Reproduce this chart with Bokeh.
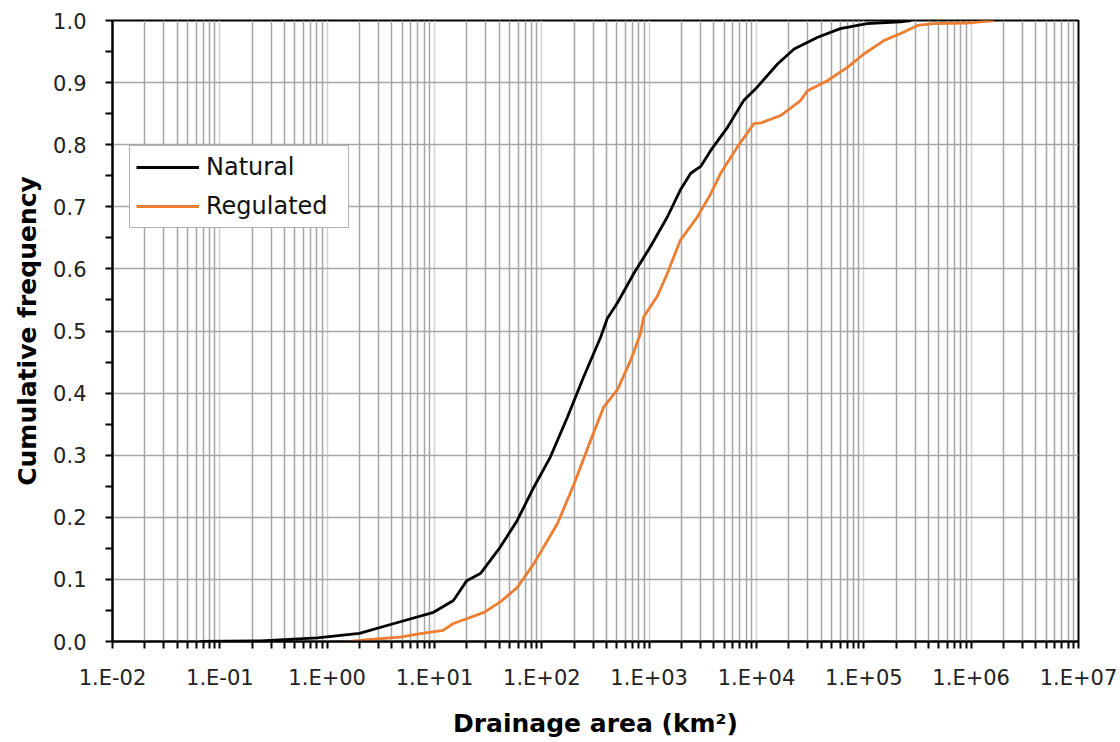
from bokeh.plotting import figure
from bokeh.models import FixedTicker, Legend, LegendItem, Range1d
from bokeh.embed import file_html
from bokeh.resources import INLINE

# Drainage area (km2) and cumulative frequency
natural_area = [0.066, 0.24, 0.81, 2.0, 4.2, 9.8, 15, 20, 27, 41, 59, 84, 120, 173, 245,
                353, 407, 505, 721, 1030, 1480, 1950, 2440, 3020, 3720, 5370, 7590, 10200,
                15700, 22400, 37200, 60300, 107000, 219000, 275000]
natural_freq = [0.0, 0.001, 0.006, 0.013, 0.029, 0.047, 0.066, 0.098, 0.11, 0.152, 0.195,
                0.248, 0.297, 0.361, 0.426, 0.49, 0.52, 0.545, 0.593, 0.636, 0.684, 0.727,
                0.754, 0.765, 0.79, 0.828, 0.871, 0.893, 0.93, 0.954, 0.973, 0.987, 0.995,
                0.998, 1.0]

regulated_area = [1.65, 2.4, 4.8, 6.9, 12, 15, 29, 42, 59, 84, 140, 200, 285, 378, 505, 673,
                  830, 890, 1190, 1480, 1950, 2820, 3720, 4630, 6610, 9460, 11000, 16800,
                  25700, 29900, 45700, 70800, 100000, 155000, 234000, 316000, 447000,
                  912000, 1620000]
regulated_freq = [0.0, 0.003, 0.007, 0.012, 0.018, 0.029, 0.047, 0.065, 0.087, 0.125, 0.19,
                  0.254, 0.324, 0.378, 0.405, 0.453, 0.496, 0.523, 0.556, 0.593, 0.646, 0.684,
                  0.72, 0.754, 0.796, 0.834, 0.835, 0.847, 0.871, 0.887, 0.903, 0.925, 0.946,
                  0.968, 0.981, 0.992, 0.995, 0.996, 1.0]

x_major = [10.0 ** e for e in range(-2, 8)]
x_labels = ["1.E-02", "1.E-01", "1.E+00", "1.E+01", "1.E+02", "1.E+03", "1.E+04",
            "1.E+05", "1.E+06", "1.E+07"]
y_major = [round(0.1 * i, 1) for i in range(11)]
y_minor = [round(0.05 + 0.1 * i, 2) for i in range(10)]

FONT = "DejaVu Sans"

p = figure(width=1120, height=742, x_axis_type="log", output_backend="svg",
           toolbar_location=None, min_border_left=112, min_border_right=42,
           min_border_top=20, min_border_bottom=101)
p.x_range = Range1d(1e-2, 1e7)
p.y_range = Range1d(0, 1.0)

x_minor = [m * 10.0 ** e for e in range(-2, 7) for m in range(2, 10)]
p.xaxis.ticker = FixedTicker(ticks=x_major, minor_ticks=x_minor)
p.xaxis.major_label_overrides = {v: s for v, s in zip(x_major, x_labels)}
p.yaxis.ticker = FixedTicker(ticks=y_major, minor_ticks=y_minor)
p.yaxis.major_label_overrides = {v: f"{v:.1f}" for v in y_major}

for ax in (p.xaxis, p.yaxis):
    ax.axis_line_color = "black"
    ax.axis_line_width = 2
    ax.major_tick_line_color = "black"
    ax.minor_tick_line_color = "black"
    ax.major_tick_line_width = 2
    ax.minor_tick_line_width = 2
    ax.major_tick_out = 7
    ax.major_tick_in = 0
    ax.minor_tick_out = 7
    ax.minor_tick_in = 0
    ax.major_label_text_font = FONT
    ax.major_label_text_font_size = "21px"
    ax.major_label_text_color = "#222222"
    ax.axis_label_text_font = FONT
    ax.axis_label_text_font_size = "25px"
    ax.axis_label_text_font_style = "bold"
    ax.axis_label_text_color = "black"

p.xaxis.axis_label = "Drainage area (km²)"
p.yaxis.axis_label = "Cumulative frequency"
p.xaxis.major_label_standoff = 17
p.xaxis.axis_label_standoff = 16
p.yaxis.major_label_standoff = 19
p.yaxis.axis_label_standoff = 8

p.xgrid.grid_line_color = "#d2d2d2"
p.xgrid.grid_line_width = 1.5
p.xgrid.minor_grid_line_color = "#a6a6a6"
p.xgrid.minor_grid_line_width = 1.5
p.ygrid.grid_line_color = "#a6a6a6"
p.ygrid.grid_line_width = 1.5

p.outline_line_color = "black"
p.outline_line_width = 2
p.outline_line_alpha = 1.0

r_nat = p.line(natural_area, natural_freq, line_color="black", line_width=2.8)
r_reg = p.line(regulated_area, regulated_freq, line_color="#ED7D31", line_width=2.8)

legend = Legend(items=[LegendItem(label="Natural", renderers=[r_nat]),
                       LegendItem(label="Regulated", renderers=[r_reg])],
                location=(17, 413))
legend.label_text_font = FONT
legend.label_text_font_size = "24px"
legend.label_text_color = "#111111"
legend.glyph_width = 63
legend.glyph_height = 30
legend.label_height = 30
legend.label_width = 136
legend.label_standoff = 7
legend.spacing = 9
legend.padding = 6
legend.margin = 0
legend.border_line_color = "#666666"
legend.border_line_width = 1.5
legend.background_fill_color = "white"
legend.background_fill_alpha = 1.0
p.add_layout(legend, "center")

open("out.html", "w").write(file_html(p, INLINE))
